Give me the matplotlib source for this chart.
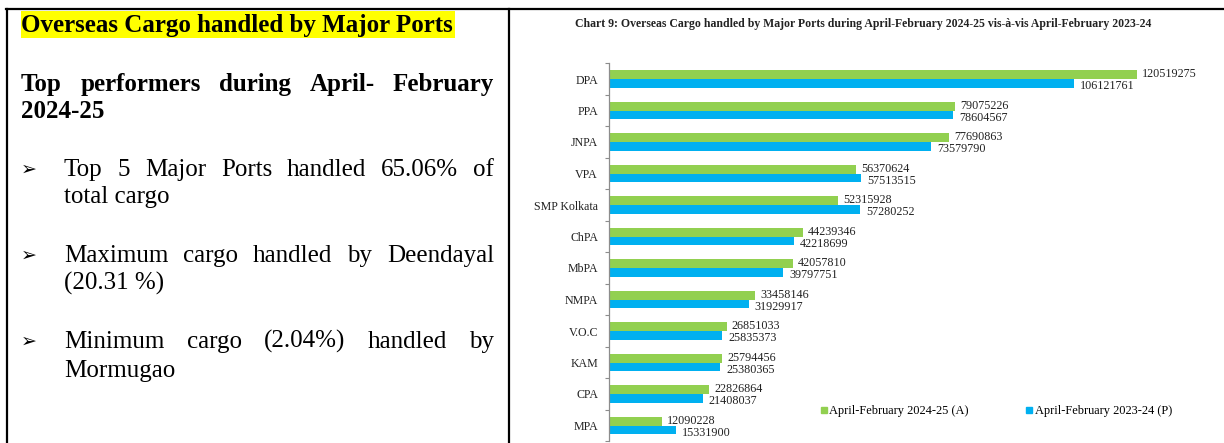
import matplotlib
matplotlib.use("Agg")
import matplotlib.pyplot as plt
from matplotlib.transforms import Affine2D
from matplotlib.patches import Rectangle
from matplotlib.lines import Line2D

# ---------------- data ----------------
ports = ['DPA', 'PPA', 'JNPA', 'VPA', 'SMP Kolkata', 'ChPA', 'MbPA', 'NMPA',
         'V.O.C', 'KAM', 'CPA', 'MPA']
cargo_2024_25 = [120519275, 79075226, 77690863, 56370624, 52315928, 44239346,
                 42057810, 33458146, 26851033, 25794456, 22826864, 12090228]
cargo_2023_24 = [106121761, 78604567, 73579790, 57513515, 57280252, 42218699,
                 39797751, 31929917, 25835373, 25380365, 21408037, 15331900]
series_labels = ['April-February 2024-25 (A)', 'April-February 2023-24 (P)']
chart_title = ('Chart 9: Overseas Cargo handled by Major Ports during '
               'April-February 2024-25 vis-à-vis April-February 2023-24')

GREEN = '#92D050'
BLUE = '#00B0F0'
SERIF = ['Liberation Serif', 'DejaVu Serif']

W, H = 1224, 443
fig = plt.figure(figsize=(W / 100, H / 100), dpi=100)
fig.patch.set_facecolor('white')
# pixel coordinates with origin at top-left
PX = Affine2D().scale(1 / W, -1 / H).translate(0, 1) + fig.transFigure
renderer = fig.canvas.get_renderer()


def text_px(x, y, s, **kw):
    return fig.text(x, y, s, transform=PX, **kw)


def width_of(t):
    return t.get_window_extent(renderer=renderer).width


def fit_text(x0, x1, y, s, **kw):
    t = text_px(x0, y, s, fontsize=18, va='baseline', ha='left', **kw)
    w = width_of(t)
    t.set_fontsize(18 * (x1 - x0) / w)
    return t


def justify(x0, x1, y, words, size=18, **kw):
    ts = [text_px(x0, y, wd, fontsize=size, va='baseline', ha='left', **kw) for wd in words]
    ws = [width_of(t) for t in ts]
    gap = (x1 - x0 - sum(ws)) / (len(ws) - 1)
    x = x0
    for t, w in zip(ts, ws):
        t.set_x(x)
        x += w + gap


# ---------------- frame lines ----------------
fig.add_artist(Line2D([6, 1224], [9, 9], transform=PX, color='black', lw=1.6))
fig.add_artist(Line2D([7.3, 7.3], [9, 443], transform=PX, color='black', lw=1.6))
fig.add_artist(Line2D([509, 509], [9, 443], transform=PX, color='black', lw=1.6))

# ---------------- left text panel ----------------
fig.add_artist(Rectangle((21, 10.5), 434, 27.5, transform=PX, facecolor='#FFFF00',
                         edgecolor='none', zorder=0))
text_px(21, 32, 'Overseas Cargo handled by Major Ports', fontsize=18,
        family=SERIF, weight='bold', va='baseline', ha='left', zorder=2)
justify(21, 494, 90.5, ['Top', 'performers', 'during', 'April-', 'February'],
        family=SERIF, weight='bold')
text_px(21, 118, '2024-25', fontsize=18, family=SERIF, weight='bold',
        va='baseline', ha='left')

bullets = [
    (176, ['Top', '5', 'Major', 'Ports', 'handled', '65.06%', 'of'], 203.5, 'total cargo'),
    (262, ['Maximum', 'cargo', 'handled', 'by', 'Deendayal'], 290, '(20.31 %)'),
    (348, ['Minimum', 'cargo', '(2.04%)', 'handled', 'by'], 377, 'Mormugao'),
]
for y1, words, y2, tail in bullets:
    fit_text(21, 37, y1 - 1, '\u27a2', family=['DejaVu Sans'], weight='bold')
    justify(64, 494, y1, words, family=SERIF)
    text_px(64, y2, tail, fontsize=18, family=SERIF, va='baseline', ha='left')

# ---------------- chart ----------------
ax_l, ax_r, ax_t, ax_b = 609, 1222, 63.25, 441.25
ax = fig.add_axes([ax_l / W, 1 - ax_b / H, (ax_r - ax_l) / W, (ax_b - ax_t) / H])
ax.set_facecolor('none')

pos = list(range(len(ports)))
bh = 0.27
ax.barh([p - bh / 2 for p in pos], cargo_2024_25, height=bh, color=GREEN,
        label=series_labels[0])
ax.barh([p + bh / 2 for p in pos], cargo_2023_24, height=bh, color=BLUE,
        label=series_labels[1])

for p, v in zip(pos, cargo_2024_25):
    ax.annotate(f'{v}', (v, p - bh / 2), xytext=(3.6, 0.3), textcoords='offset points',
                va='center', ha='left', fontsize=8.7, family=SERIF, color='#222222')
for p, v in zip(pos, cargo_2023_24):
    ax.annotate(f'{v}', (v, p + bh / 2), xytext=(4.3, -2.3), textcoords='offset points',
                va='center', ha='left', fontsize=8.7, family=SERIF, color='#222222')

ax.set_xlim(0, 140e6)
ax.set_ylim(len(ports) - 0.5, -0.5)
ax.set_xticks([])
ax.set_yticks(pos)
ax.set_yticklabels(ports, family=SERIF, fontsize=8.6, color='#222222')
ax.tick_params(axis='y', which='major', length=0, pad=7.9)
ax.set_yticks([p - 0.5 for p in range(len(ports) + 1)], minor=True)
ax.tick_params(axis='y', which='minor', length=3, color='#8c8c8c', width=0.8)
for s in ['top', 'right', 'bottom']:
    ax.spines[s].set_visible(False)
ax.spines['left'].set_color('#8c8c8c')
ax.spines['left'].set_linewidth(0.9)

handles = [Line2D([], [], marker='s', linestyle='none', color=GREEN, markersize=4),
           Line2D([], [], marker='s', linestyle='none', color=BLUE, markersize=4)]
fig.legend(handles, series_labels, loc='center left',
           bbox_to_anchor=(820, 411), bbox_transform=PX, ncol=2, frameon=False,
           prop={'family': SERIF, 'size': 8.9}, handlelength=0.6,
           handletextpad=0.15, columnspacing=4.6, borderpad=0, borderaxespad=0)

# chart title
fit_text(575, 1150, 27, chart_title, family=SERIF, weight='bold', color='#222222')

fig.savefig('out.png', dpi=100, facecolor='white')
